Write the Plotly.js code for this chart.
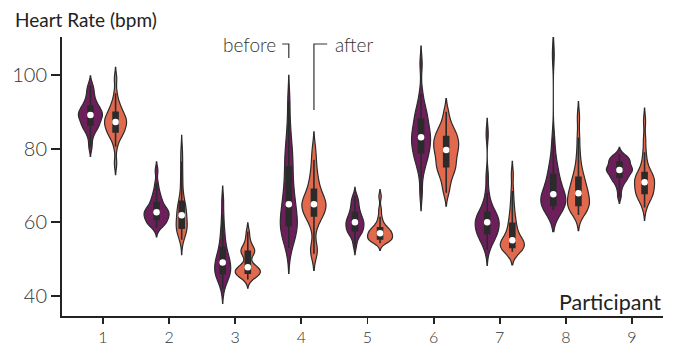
<!DOCTYPE html>
<html><head><meta charset="utf-8">
<script src="https://cdn.plot.ly/plotly-3.0.1.min.js"></script>
<style>html,body{margin:0;padding:0;background:#fff}#chart{width:676px;height:345px}</style>
</head><body><div id="chart"></div>
<script>
// ---- data (heart-rate samples, bpm) ----
const participants = ['1','2','3','4','5','6','7','8','9'];
const conditions = ['before','after'];
const yTicks = [40, 60, 80, 100];

const p1Before = [80.5,83.0,84.5,85.3,86.0,86.2,86.5,87.2,87.8,88.2,88.6,88.9,89.1,89.4,89.8,90.2,90.6,91.0,91.4,92.0,92.8,93.6,94.8,96.0,97.2];
const p1After  = [76.0,80.5,82.5,83.4,84.0,84.3,84.6,85.2,85.8,86.3,86.7,87.0,87.2,87.5,87.9,88.3,88.8,89.2,89.7,90.3,91.0,91.8,92.8,95.0,99.0];
const p2Before = [58.5,59.2,59.6,59.9,60.2,60.5,60.9,61.3,61.7,62.0,62.3,62.5,62.7,63.0,63.3,63.7,64.1,64.6,65.2,65.9,66.6,67.5,68.6,70.5,74.0];
const p2After  = [55.3,56.5,57.2,57.8,58.1,58.3,58.4,59.0,59.6,60.3,60.9,61.4,61.9,62.5,63.0,63.6,64.3,64.9,65.4,66.5,68.5,71.0,73.5,76.5,79.5];
const p3Before = [41.8,43.5,44.6,45.2,45.7,46.0,46.1,46.6,47.2,47.8,48.3,48.7,49.1,49.5,50.0,50.6,51.3,52.1,52.9,54.0,55.5,57.0,59.0,62.0,66.0];
const p3After  = [44.5,45.2,45.6,45.9,46.0,46.1,46.2,46.5,46.8,47.1,47.3,47.6,47.8,48.1,48.6,50.5,51.4,51.8,52.0,52.4,52.8,53.3,54.2,55.6,57.5];
const p4Before = [53.0,55.0,56.2,57.2,58.0,58.7,59.2,60.0,60.8,61.8,62.9,63.9,64.9,66.2,67.5,69.0,70.6,72.5,74.7,76.3,78.0,80.0,82.5,86.5,93.0];
const p4After  = [51.5,52.5,53.0,58.5,60.5,61.3,61.9,62.5,63.1,63.7,64.2,64.6,64.9,65.3,65.8,66.3,66.8,67.6,68.7,69.8,71.0,72.5,74.5,77.0,80.0];
const p5Before = [53.5,55.2,56.3,56.9,57.3,57.6,57.8,58.3,58.7,59.1,59.4,59.7,60.0,60.3,60.7,61.1,61.5,62.0,62.5,63.1,63.8,64.6,65.4,66.2,67.2];
const p5After  = [54.3,54.8,55.0,55.2,55.3,55.4,55.5,55.8,56.1,56.4,56.6,56.8,57.0,57.2,57.4,57.7,58.0,58.2,58.4,58.8,59.4,60.3,61.5,63.5,67.0];
const p6Before = [68.0,73.0,75.3,76.5,77.5,78.4,79.0,79.8,80.6,81.3,82.0,82.6,83.1,83.7,84.4,85.1,85.9,86.8,87.8,88.7,89.6,90.6,92.0,95.0,103.0];
const p6After  = [68.0,70.0,71.8,73.0,74.0,74.7,75.2,76.0,76.8,77.6,78.3,79.0,79.6,80.2,80.8,81.3,81.8,82.4,83.1,83.7,84.3,85.0,86.0,87.5,90.0];
const p7Before = [52.5,54.2,55.3,56.0,56.5,56.8,57.0,57.6,58.2,58.8,59.3,59.7,60.0,60.3,60.7,61.1,61.6,62.0,62.5,63.2,64.2,65.6,68.0,72.5,84.0];
const p7After  = [52.0,52.4,52.7,52.9,53.0,53.1,53.2,53.6,54.0,54.4,54.7,54.9,55.1,55.5,56.0,56.8,57.7,58.6,59.5,60.5,61.8,63.5,65.5,68.5,73.0];
const p8Before = [63.3,63.7,64.0,64.2,64.3,64.5,64.6,65.2,65.8,66.4,66.9,67.3,67.6,68.0,68.5,69.3,70.4,71.6,72.8,73.6,74.6,76.3,79.0,83.0,105.5];
const p8After  = [62.0,62.8,63.4,63.8,64.2,64.4,64.6,65.2,65.9,66.5,67.0,67.5,67.9,68.4,69.0,69.7,70.5,71.3,72.0,73.0,74.3,76.3,79.0,83.0,88.5];
const p9Before = [67.0,69.0,70.3,71.0,71.6,72.0,72.3,72.8,73.2,73.6,73.9,74.1,74.2,74.5,74.8,75.1,75.4,75.8,76.3,76.6,76.9,77.2,77.5,77.9,78.5];
const p9After  = [64.0,65.5,66.5,67.1,67.5,67.7,67.9,68.5,69.1,69.7,70.2,70.6,70.9,71.3,71.7,72.1,72.5,72.9,73.3,74.0,75.2,76.8,79.0,82.5,87.5];

const beforeSets = [p1Before,p2Before,p3Before,p4Before,p5Before,p6Before,p7Before,p8Before,p9Before];
const afterSets  = [p1After,p2After,p3After,p4After,p5After,p6After,p7After,p8After,p9After];

// ---- styling ----
const colors = {before:'#6c1f5b', after:'#e0694e'};
const ink = '#2b2b2b';
const fontFam = 'Lato, "DejaVu Sans", sans-serif';
const pxPerUnit = 66.125;   // x axis scale (px per participant)
const dodge = 0.19;         // half distance between paired violins
// drawn max width (px) of each violin, as in the reference's scaling
const widthBeforePx = [24, 25, 16, 17, 18, 19, 24, 25, 26];
const widthAfterPx  = [22, 11, 25, 24, 25, 25, 24, 22, 20];
const boxPx = 5;
const bwAdjust = 0.62;

function kdeInfo(a){
  const n = a.length;
  const mean = a.reduce((s,v)=>s+v,0)/n;
  const sd = Math.sqrt(a.reduce((s,v)=>s+(v-mean)*(v-mean),0)/(n-1));
  const bw = bwAdjust*sd*Math.pow(n,-0.2);
  const s=[...a].sort((p,q)=>p-q);
  const m = n%2? s[(n-1)/2] : (s[n/2-1]+s[n/2])/2;
  return {bw, median:m};
}

const groups = [];
participants.forEach((p,i)=>{
  groups.push({cond:'before', pos:i+1-dodge, y:beforeSets[i], wpx:widthBeforePx[i]});
  groups.push({cond:'after',  pos:i+1+dodge, y:afterSets[i],  wpx:widthAfterPx[i]});
});
groups.forEach(g=>Object.assign(g,kdeInfo(g.y)));

const traces = [];
groups.forEach(g=>{
  traces.push({
    type:'violin', orientation:'v', x0:g.pos, y:g.y, name:g.cond,
    width: g.wpx/pxPerUnit, scalemode:'width', bandwidth:g.bw, spanmode:'soft',
    points:false, fillcolor:colors[g.cond], opacity:1,
    line:{color:ink, width:1.2},
    box:{visible:true, width:Math.min(1,boxPx/g.wpx), fillcolor:ink, line:{color:ink, width:1.6}},
    meanline:{visible:false}, hoverinfo:'skip', showlegend:false
  });
});
traces.push({
  type:'scatter', mode:'markers', x:groups.map(g=>g.pos), y:groups.map(g=>g.median),
  marker:{color:'#ffffff', size:6.5, line:{width:0}}, hoverinfo:'skip', showlegend:false
});

const p4 = 4;
const layout = {
  width:676, height:345,
  margin:{l:62, r:13, t:37, b:29},
  paper_bgcolor:'#fff', plot_bgcolor:'#fff',
  font:{family:fontFam, color:'#333', size:17, weight:300},
  showlegend:false,
  xaxis:{range:[1-41/pxPerUnit, 9+31/pxPerUnit], tickvals:participants.map((p,i)=>i+1), ticktext:participants,
         showline:true, linecolor:'#222', linewidth:2, ticks:'outside', ticklen:6, tickwidth:1.8, tickcolor:'#222',
         showgrid:false, zeroline:false, tickfont:{size:16, color:'#333', weight:300}},
  yaxis:{range:[34.57, 110.3], tickvals:yTicks, showline:true, linecolor:'#222', linewidth:2,
         ticks:'outside', ticklen:9, tickwidth:1.8, tickcolor:'#222', showgrid:false, zeroline:false,
         tickfont:{size:20, color:'#333', weight:300}},
  annotations:[
    {xref:'paper', yref:'paper', x:(13-62)/601, y:1+ (37-20)/279, xanchor:'left', yanchor:'middle',
     text:'Heart Rate (bpm)', showarrow:false, font:{size:19, color:'#222', weight:400}},
    {xref:'paper', yref:'paper', x:1, y:(316-302)/279, xanchor:'right', yanchor:'middle',
     text:'Participant', showarrow:false, font:{size:21.5, color:'#222', weight:400}},
    {xref:'x', yref:'y', x:p4-dodge-0.17, y:108.3, xanchor:'right', yanchor:'middle',
     text:'before', showarrow:false, font:{size:19, color:'#333', weight:300}},
    {xref:'x', yref:'y', x:p4+dodge+0.29, y:108.3, xanchor:'left', yanchor:'middle',
     text:'after', showarrow:false, font:{size:19, color:'#333', weight:300}}
  ],
  shapes:[
    {type:'path', xref:'x', yref:'y', path:`M ${p4-dodge-0.1} 108.4 L ${p4-dodge} 108.4 L ${p4-dodge} 104.6`,
     line:{color:'#333', width:1.2}},
    {type:'path', xref:'x', yref:'y', path:`M ${p4+dodge+0.2} 108.4 L ${p4+dodge} 108.4 L ${p4+dodge} 90.5`,
     line:{color:'#333', width:1.2}}
  ]
};
Plotly.newPlot('chart', traces, layout, {displayModeBar:false, staticPlot:true});
</script></body></html>
